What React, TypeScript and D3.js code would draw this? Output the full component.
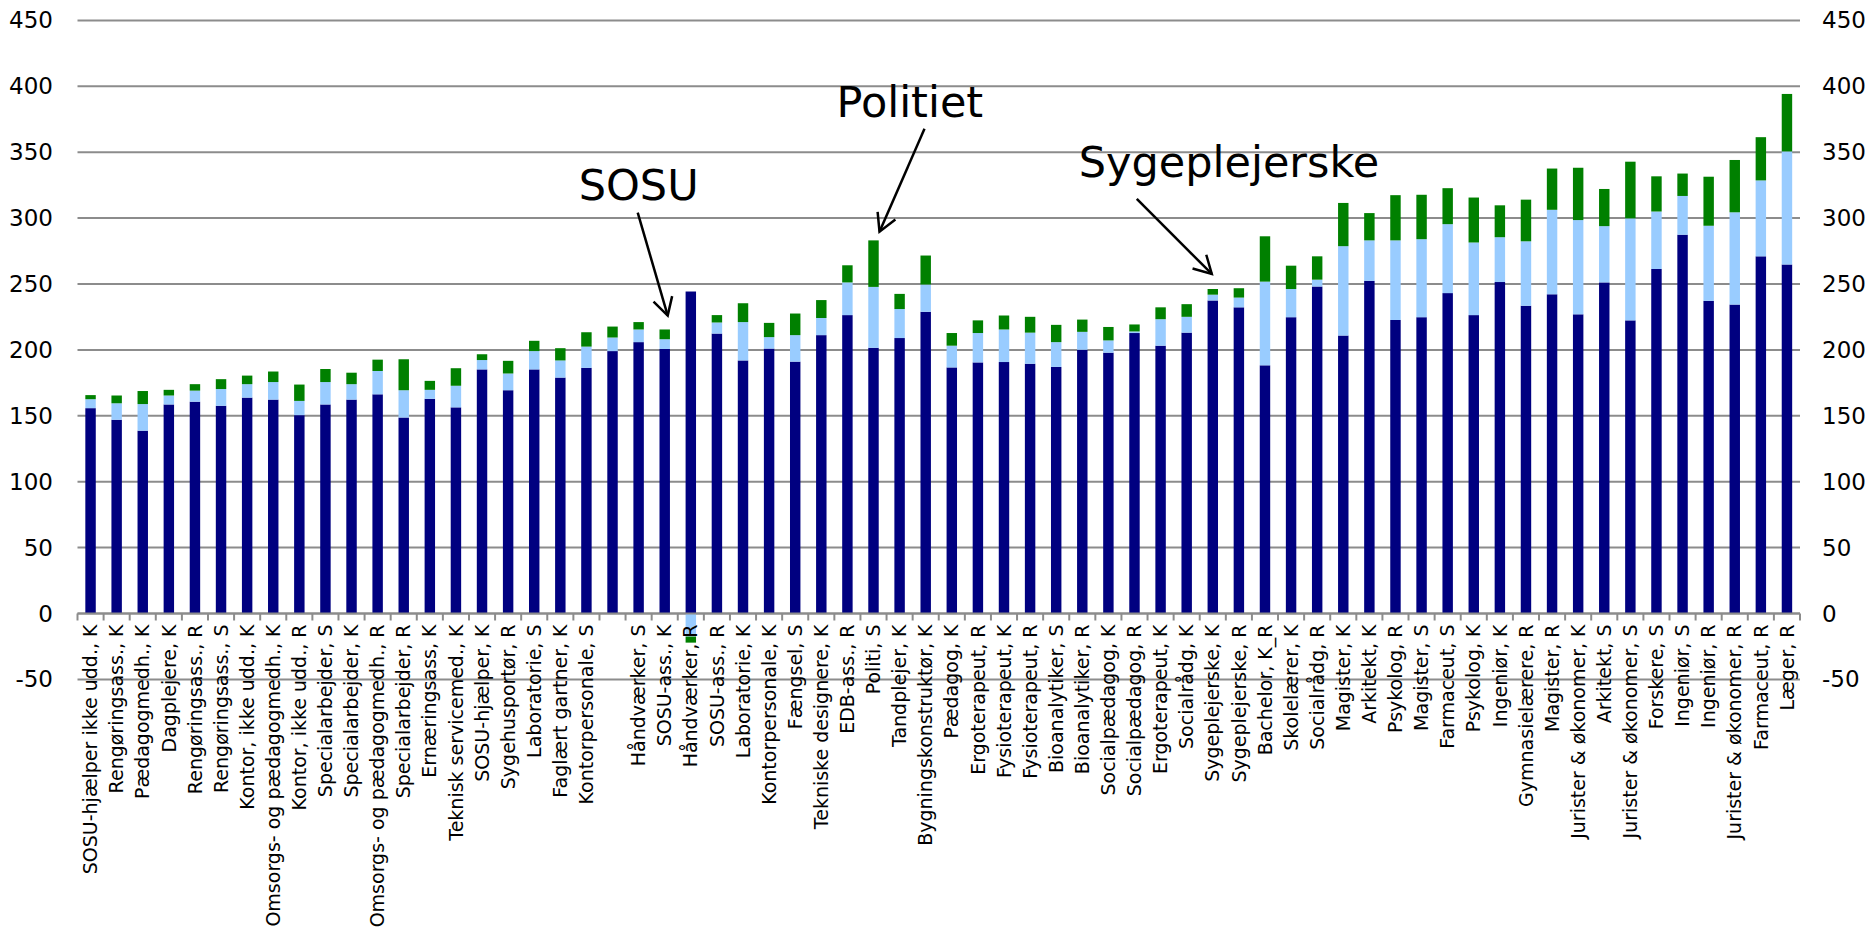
import React from "react";
import * as d3 from "d3";

const categories: string[] = [
  "SOSU-hjælper ikke udd., K", "Rengøringsass., K", "Pædagogmedh., K", "Dagplejere, K",
  "Rengøringsass., R", "Rengøringsass., S", "Kontor, ikke udd., K", "Omsorgs- og pædagogmedh., K",
  "Kontor, ikke udd., R", "Specialarbejder, S", "Specialarbejder, K", "Omsorgs- og pædagogmedh., R",
  "Specialarbejder, R", "Ernæringsass, K", "Teknisk servicemed., K", "SOSU-hjælper, K",
  "Sygehusportør, R", "Laboratorie, S", "Faglært gartner, K", "Kontorpersonale, S",
  "", "Håndværker, S", "SOSU-ass., K", "Håndværker, R",
  "SOSU-ass., R", "Laboratorie, K", "Kontorpersonale, K", "Fængsel, S",
  "Tekniske designere, K", "EDB-ass., R", "Politi, S", "Tandplejer, K",
  "Bygningskonstruktør, K", "Pædagog, K", "Ergoterapeut, R", "Fysioterapeut, K",
  "Fysioterapeut, R", "Bioanalytiker, S", "Bioanalytiker, R", "Socialpædagog, K",
  "Socialpædagog, R", "Ergoterapeut, K", "Socialrådg, K", "Sygeplejerske, K",
  "Sygeplejerske, R", "Bachelor, K_R", "Skolelærer, K", "Socialrådg, R",
  "Magister, K", "Arkitekt, K", "Psykolog, R", "Magister, S",
  "Farmaceut, S", "Psykolog, K", "Ingeniør, K", "Gymnasielærere, R",
  "Magister, R", "Jurister & økonomer, K", "Arkitekt, S", "Jurister & økonomer, S",
  "Forskere, S", "Ingeniør, S", "Ingeniør, R", "Jurister & økonomer, R",
  "Farmaceut, R", "Læger, R",
];

// Navy series (base)
const seriesBase: number[] = [
  155.8, 147.0, 138.7, 158.6, 160.7, 157.6, 163.8, 162.3, 150.5, 158.6,
  162.3, 166.3, 148.7, 162.9, 156.4, 185.2, 169.4, 185.2, 179.0, 186.4,
  199.1, 205.9, 200.7, 244.3, 212.4, 192.0, 201.0, 191.1, 211.2, 226.4,
  201.6, 209.0, 228.9, 186.7, 190.5, 190.8, 189.5, 187.1, 200.1, 197.9,
  212.8, 203.2, 213.1, 237.5, 232.3, 188.3, 224.8, 248.1, 210.9, 252.4,
  222.7, 224.8, 243.1, 226.4, 251.5, 233.5, 242.2, 227.0, 251.2, 222.4,
  261.4, 287.4, 237.2, 234.4, 271.0, 264.8,
];

// Light blue series
const seriesMid: number[] = [
  6.8, 12.5, 20.2, 6.8, 8.4, 12.7, 10.2, 13.3, 10.8, 17.0,
  11.7, 17.7, 20.7, 6.8, 16.4, 7.1, 12.7, 13.9, 13.0, 16.1,
  10.3, 9.6, 7.4, -17.5, 8.4, 29.1, 8.7, 20.1, 13.0, 24.8,
  46.2, 22.0, 20.7, 16.5, 22.3, 24.7, 23.6, 18.8, 13.6, 9.3,
  1.2, 20.1, 12.0, 4.4, 7.4, 63.5, 21.4, 5.2, 67.8, 30.7,
  60.4, 59.2, 52.3, 55.1, 34.0, 48.9, 64.1, 71.5, 42.7, 77.4,
  43.6, 29.4, 57.0, 70.0, 57.6, 85.8,
];

// Green series
const seriesTop: number[] = [
  3.1, 5.9, 9.9, 4.3, 4.9, 7.5, 6.5, 8.0, 12.4, 9.9,
  8.7, 8.6, 23.5, 6.8, 13.3, 4.4, 9.6, 7.8, 9.3, 10.9,
  8.3, 5.6, 7.4, -4.6, 5.6, 14.3, 10.8, 16.4, 13.6, 13.0,
  35.3, 11.5, 22.0, 9.6, 9.6, 10.6, 12.0, 13.1, 9.3, 10.2,
  5.3, 9.0, 9.6, 4.3, 7.1, 34.4, 17.7, 17.7, 32.8, 20.7,
  34.3, 33.7, 27.3, 34.1, 24.2, 31.6, 31.3, 39.7, 28.2, 43.0,
  26.7, 17.0, 37.2, 39.7, 32.8, 43.6,
];

const yTicks: number[] = [-50, 0, 50, 100, 150, 200, 250, 300, 350, 400, 450];

// Annotations: text and target bar index
const annotationTexts: string[] = ["SOSU", "Politiet", "Sygeplejerske"];
const annotationTargets: number[] = [22, 30, 43];

const seriesKeys = ["base", "mid", "top"];
const seriesColors: Record<string, string> = {
  base: "#000080",
  mid: "#99CCFF",
  top: "#008000",
};

const W = 1872;
const H = 928;
const left = 77.5;
const right = 1800;
const yTopPx = 20.4;
const yZeroPx = 613.5;
const FONT = "'DejaVu Sans', Verdana, sans-serif";

// layout for annotations (pixel offsets, not data)
const annLayout = [
  { tipDx: 3, tipGap: 10.5, startDx: -30, startDy: -103, textDx: -89, textDy: -116 },
  { tipDx: 6, tipGap: 6.6, startDx: 45, startDy: -103, textDx: -43, textDy: -115 },
  { tipDx: -1, tipGap: 11.4, startDx: -75, startDy: -75, textDx: -133, textDy: -97 },
];

export default function App() {
  const n = categories.length;
  const rows = categories.map((c, i) => ({
    idx: i,
    base: seriesBase[i],
    mid: seriesMid[i],
    top: seriesTop[i],
  }));

  const x = d3
    .scaleBand<number>()
    .domain(d3.range(n))
    .range([left, right])
    .paddingInner(0.6)
    .paddingOuter(0.3);

  const yPerUnit = (yZeroPx - yTopPx) / 450;
  const y = d3
    .scaleLinear()
    .domain([-50, 450])
    .range([yZeroPx + 50 * yPerUnit, yTopPx]);

  const stack = d3
    .stack<any>()
    .keys(seriesKeys)
    .offset(d3.stackOffsetDiverging);
  const stacked = stack(rows);

  const step = x.step();
  const bw = x.bandwidth();
  const center = (i: number) => (x(i) as number) + bw / 2;

  const totals = rows.map((r) => r.base + Math.max(0, r.mid) + Math.max(0, r.top));

  const arrowHead = (tx: number, ty: number, sx: number, sy: number) => {
    const dx = sx - tx;
    const dy = sy - ty;
    const len = Math.sqrt(dx * dx + dy * dy);
    const ux = dx / len;
    const uy = dy / len;
    const a = (29 * Math.PI) / 180;
    const L = 20;
    const p1 = [tx + L * (ux * Math.cos(a) - uy * Math.sin(a)), ty + L * (ux * Math.sin(a) + uy * Math.cos(a))];
    const p2 = [tx + L * (ux * Math.cos(-a) - uy * Math.sin(-a)), ty + L * (ux * Math.sin(-a) + uy * Math.cos(-a))];
    return `M${p1[0]},${p1[1]} L${tx},${ty} L${p2[0]},${p2[1]}`;
  };

  return (
    <svg
      width={W}
      height={H}
      style={{ position: "absolute", left: 0, top: 0, display: "block", background: "#fff" }}
      fontFamily={FONT}
    >
      {/* gridlines */}
      {yTicks.map((t) => (
        <line
          key={"g" + t}
          x1={left}
          x2={right}
          y1={y(t)}
          y2={y(t)}
          stroke="#8c8c8c"
          strokeWidth={2}
        />
      ))}
      {/* bars */}
      {stacked.map((s) => (
        <g key={s.key} fill={seriesColors[s.key]}>
          {s.map((d, i) => {
            const y0 = y(d[0]);
            const y1 = y(d[1]);
            const h = Math.abs(y0 - y1);
            if (h < 0.01) return null;
            return (
              <rect
                key={i}
                x={x(i)}
                y={Math.min(y0, y1)}
                width={bw}
                height={h}
              />
            );
          })}
        </g>
      ))}
      {/* zero axis + ticks */}
      <line x1={left} x2={right} y1={y(0)} y2={y(0)} stroke="#8c8c8c" strokeWidth={2} />
      {d3.range(n + 1).map((i) => (
        <line
          key={"t" + i}
          x1={left + i * step}
          x2={left + i * step}
          y1={y(0)}
          y2={y(0) + 7}
          stroke="#8c8c8c"
          strokeWidth={2}
        />
      ))}
      {/* y tick labels left and right */}
      {yTicks.map((t) => (
        <text
          key={"l" + t}
          x={53}
          y={y(t)}
          dy="0.35em"
          textAnchor="end"
          fontSize={23}
          fill="#000"
        >
          {t}
        </text>
      ))}
      {yTicks.map((t) => (
        <text
          key={"r" + t}
          x={1822}
          y={y(t)}
          dy="0.35em"
          textAnchor="start"
          fontSize={23}
          fill="#000"
        >
          {t}
        </text>
      ))}
      {/* category labels */}
      {categories.map((c, i) => (
        <text
          key={"c" + i}
          transform={`translate(${center(i)},${y(0) + 11}) rotate(-90)`}
          dy="0.35em"
          textAnchor="end"
          fontSize={19}
          fill="#000"
        >
          {c}
        </text>
      ))}
      {/* annotations */}
      {annotationTexts.map((txt, k) => {
        const L = annLayout[k];
        const ti = annotationTargets[k];
        const tx = center(ti) + L.tipDx;
        const ty = y(totals[ti] + L.tipGap);
        const sx = tx + L.startDx;
        const sy = ty + L.startDy;
        return (
          <g key={"a" + k}>
            <text x={tx + L.textDx} y={ty + L.textDy} fontSize={43} fill="#000">
              {txt}
            </text>
            <line x1={sx} y1={sy} x2={tx} y2={ty} stroke="#000" strokeWidth={2.5} />
            <path d={arrowHead(tx, ty, sx, sy)} fill="none" stroke="#000" strokeWidth={2.5} />
          </g>
        );
      })}
    </svg>
  );
}
